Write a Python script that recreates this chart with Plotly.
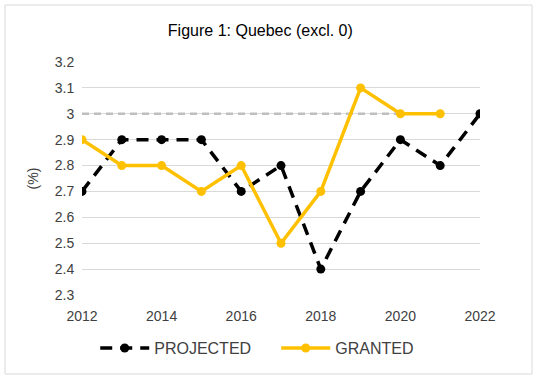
import plotly.graph_objects as go

years = [2012, 2013, 2014, 2015, 2016, 2017, 2018, 2019, 2020, 2021, 2022]
projected = [2.7, 2.9, 2.9, 2.9, 2.7, 2.8, 2.4, 2.7, 2.9, 2.8, 3.0]
granted_years = [2012, 2013, 2014, 2015, 2016, 2017, 2018, 2019, 2020, 2021]
granted = [2.9, 2.8, 2.8, 2.7, 2.8, 2.5, 2.7, 3.1, 3.0, 3.0]
ref_years = [2012, 2021]
ref_level = [3.0, 3.0]
y_ticks = [2.3, 2.4, 2.5, 2.6, 2.7, 2.8, 2.9, 3.0, 3.1, 3.2]
y_tick_text = ["2.3", "2.4", "2.5", "2.6", "2.7", "2.8", "2.9", "3", "3.1", "3.2"]
x_ticks = [2012, 2014, 2016, 2018, 2020, 2022]

font = "Liberation Sans, Arial, sans-serif"

fig = go.Figure()
fig.add_trace(go.Scatter(x=ref_years, y=ref_level, mode="lines",
                         line=dict(color="#BFBFBF", width=2.5, dash="7px,5px"),
                         showlegend=False, hoverinfo="skip"))
fig.add_trace(go.Scatter(x=years, y=projected, mode="lines+markers", name="PROJECTED",
                         line=dict(color="#000000", width=3.5, dash="12px,8px"),
                         marker=dict(color="#000000", size=9)))
fig.add_trace(go.Scatter(x=granted_years, y=granted, mode="lines+markers", name="GRANTED",
                         line=dict(color="#FFC000", width=3.5),
                         marker=dict(color="#FFC000", size=9)))

fig.update_layout(
    width=539, height=381,
    margin=dict(l=82, r=59, t=62, b=86),
    paper_bgcolor="white", plot_bgcolor="white",
    font=dict(family=font, size=14, color="#404040"),
    title=dict(text="Figure 1: Quebec (excl. 0)", x=0.483, xanchor="center", y=0.921, yanchor="middle",
               font=dict(family=font, size=16, color="#000000")),
    xaxis=dict(range=[2012, 2022], tickvals=x_ticks, showgrid=False, zeroline=False,
               showline=False, ticks="outside", ticklen=8, tickcolor="rgba(0,0,0,0)",
               tickfont=dict(size=14, color="#404040")),
    yaxis=dict(range=[2.3, 3.2], tickvals=y_ticks, ticktext=y_tick_text, showgrid=True,
               gridcolor="#D9D9D9", gridwidth=1, zeroline=False, showline=False,
               ticks="outside", ticklen=4, tickcolor="rgba(0,0,0,0)",
               title=dict(text="(%)", standoff=12, font=dict(size=14, color="#404040")),
               tickfont=dict(size=14, color="#404040")),
    legend=dict(orientation="h", x=0.488, xanchor="center", y=-0.228, yanchor="middle",
                font=dict(size=16, color="#404040"), itemwidth=49,
                entrywidth=117, entrywidthmode="pixels"),
    shapes=[dict(type="rect", xref="paper", yref="paper", x0=-0.1935, x1=1.1307, y0=-0.339, y1=1.2446,
                 line=dict(color="#D9D9D9", width=1), fillcolor="rgba(0,0,0,0)", layer="below")],
)

fig.write_html("out.html", post_script="document.body.style.margin='0';",
               config={"displayModeBar": False})
